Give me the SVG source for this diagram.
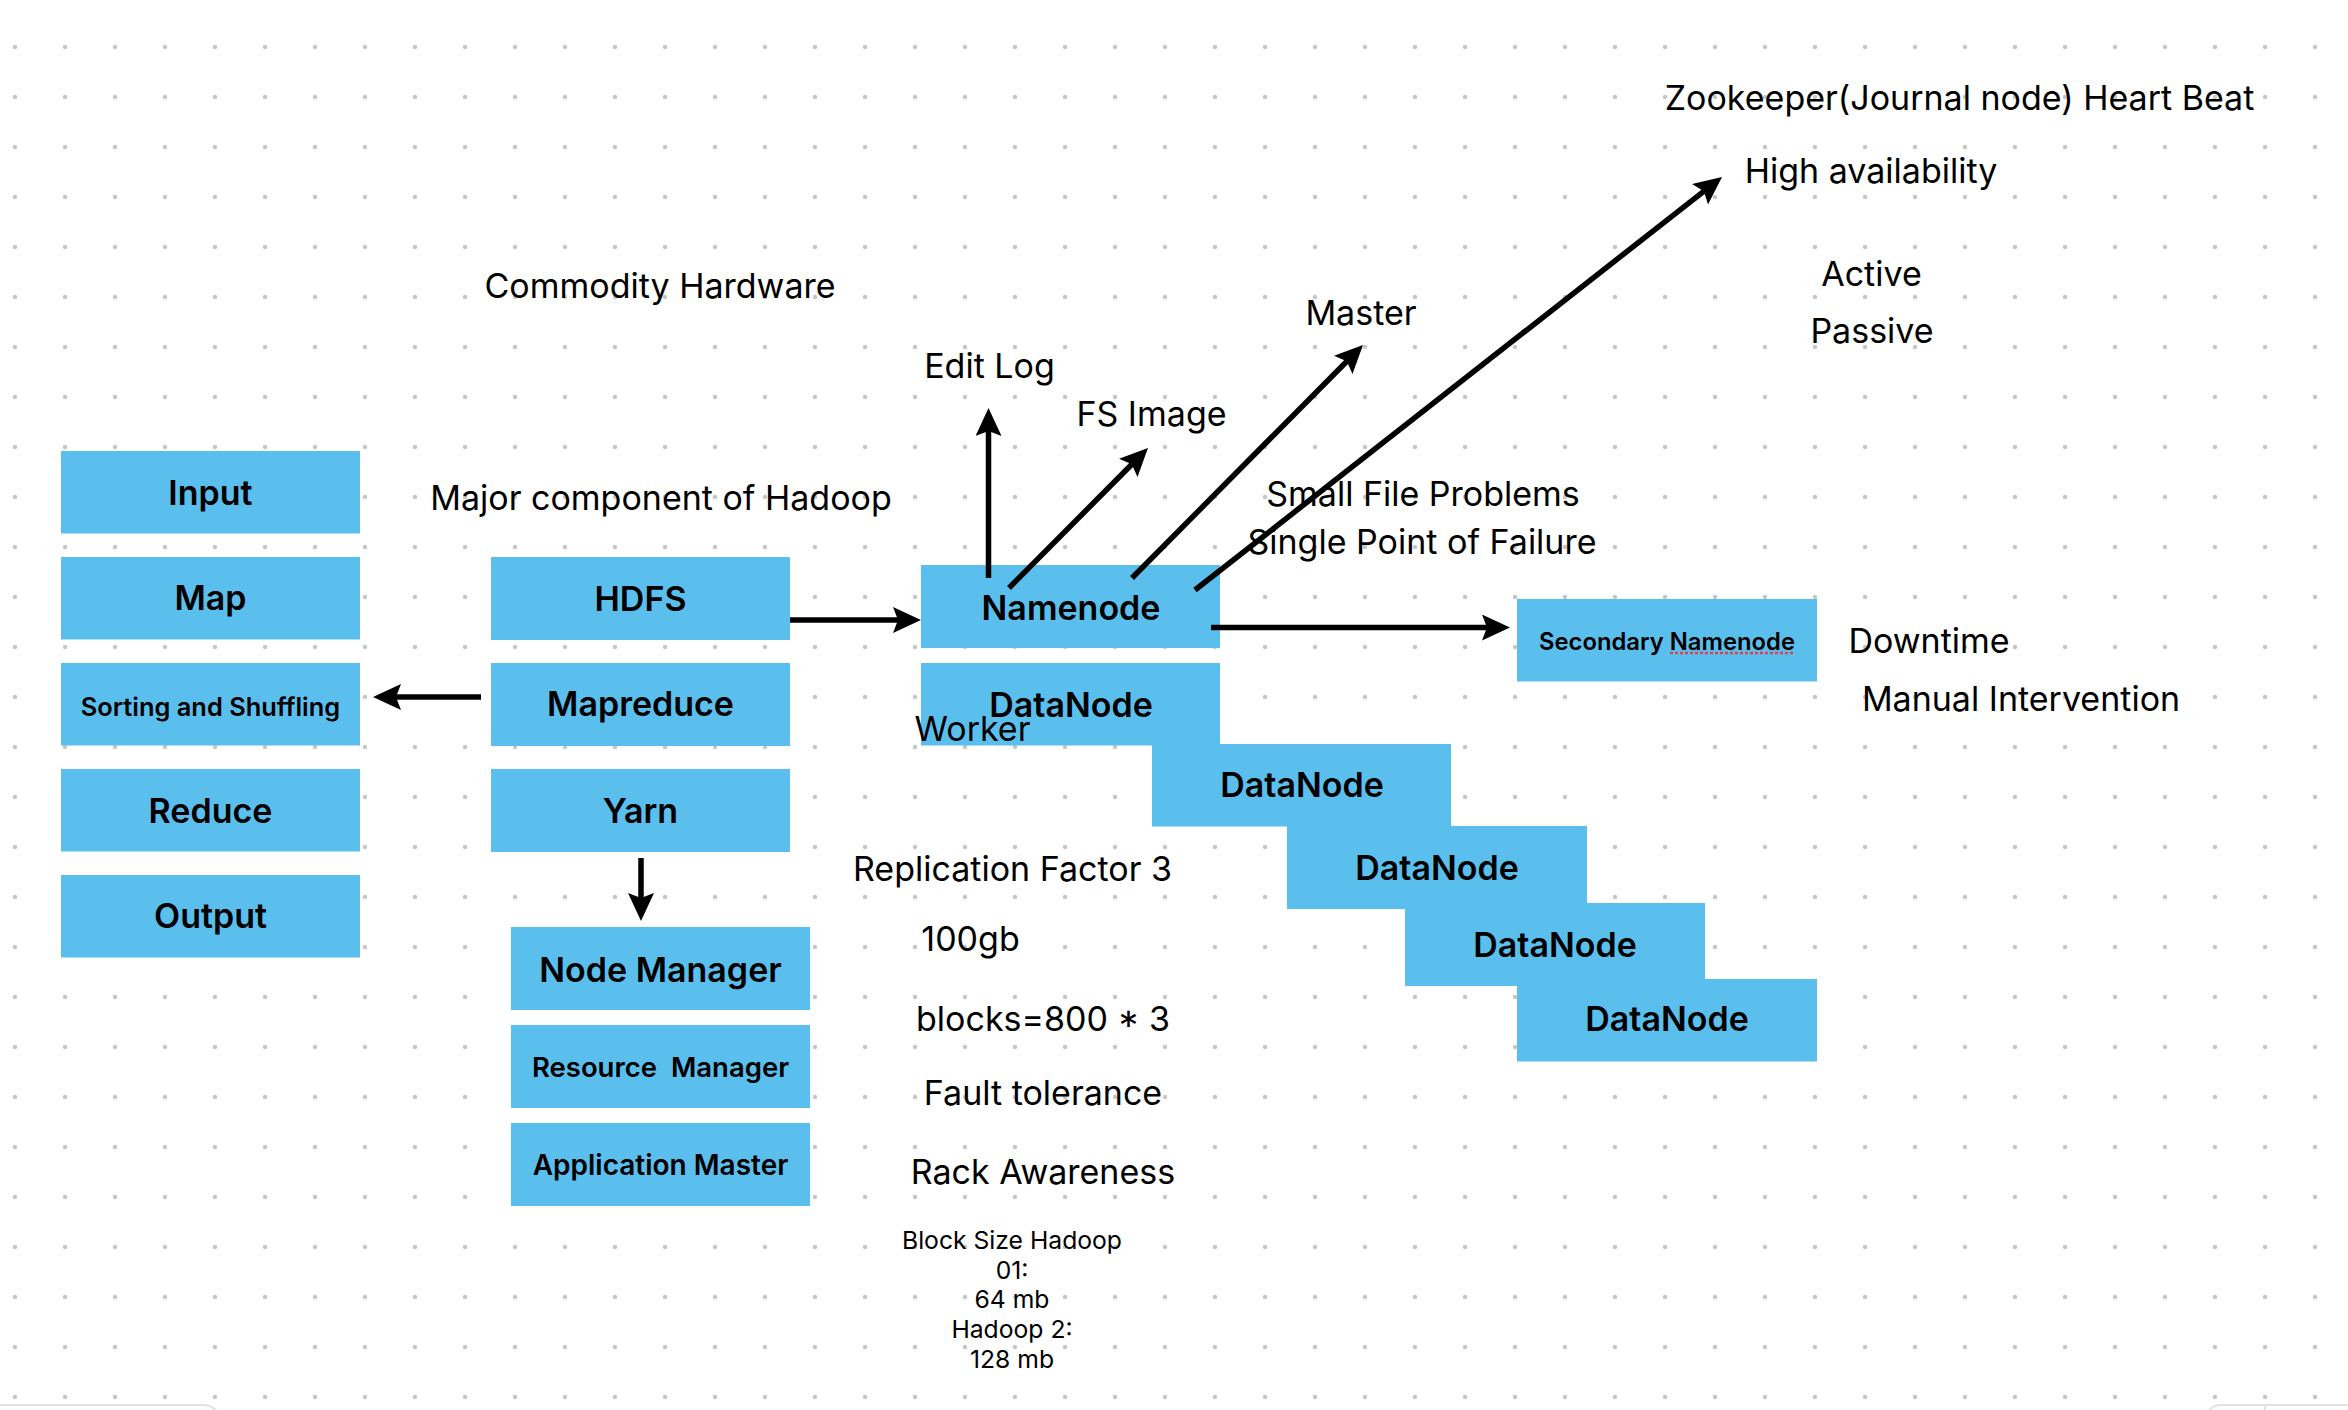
<svg xmlns="http://www.w3.org/2000/svg" width="2348" height="1410" viewBox="0 0 2348 1410">
<defs>
<pattern id="dots" x="0" y="0" width="50" height="50" patternUnits="userSpaceOnUse">
<circle cx="15" cy="47" r="2.2" fill="#c6c6c6"/>
</pattern>
<marker id="ah" markerUnits="userSpaceOnUse" markerWidth="30" markerHeight="28" refX="8" refY="13" orient="auto" viewBox="0 0 30 28">
<path d="M0,0 L28,13 L0,26 L5,13 Z" fill="#000"/>
</marker>
</defs>
<style>
.box{fill:#5bbfee}
.lbl{font-family:Inter,"Liberation Sans",sans-serif;font-weight:600;fill:#000;text-anchor:middle}
.big{font-size:34px}
.note{font-family:Inter,"Liberation Sans",sans-serif;font-size:34px;fill:#000;text-anchor:middle}
.small{font-family:Inter,"Liberation Sans",sans-serif;font-size:24.7px;fill:#000;text-anchor:middle}
.conn line{stroke:#000;stroke-width:5.5;marker-end:url(#ah)}
</style>
<rect width="2348" height="1410" fill="#fff"/>
<rect width="2348" height="1410" fill="url(#dots)"/>

<g id="input"><rect class="box" x="61" y="451" width="299" height="82.5"/><text class="lbl big" x="210.5" y="505">Input</text></g>
<g id="map"><rect class="box" x="61" y="557" width="299" height="82.5"/><text class="lbl big" x="210.5" y="610">Map</text></g>
<g id="sorting"><rect class="box" x="61" y="663" width="299" height="82.5"/><text class="lbl" font-size="25.4" x="210.5" y="716">Sorting and Shuffling</text></g>
<g id="reduce"><rect class="box" x="61" y="769" width="299" height="82.5"/><text class="lbl big" x="210.5" y="822.5">Reduce</text></g>
<g id="output"><rect class="box" x="61" y="875" width="299" height="82.5"/><text class="lbl big" x="210.5" y="928">Output</text></g>

<g id="hdfs"><rect class="box" x="491" y="557" width="299" height="83"/><text class="lbl big" x="640.5" y="611">HDFS</text></g>
<g id="mapreduce"><rect class="box" x="491" y="663" width="299" height="83"/><text class="lbl big" x="640.5" y="716">Mapreduce</text></g>
<g id="yarn"><rect class="box" x="491" y="769" width="299" height="83"/><text class="lbl big" x="640.5" y="822.5">Yarn</text></g>

<g id="nodemanager"><rect class="box" x="511" y="927" width="299" height="83"/><text class="lbl big" x="660.5" y="981.5">Node Manager</text></g>
<g id="resourcemanager"><rect class="box" x="511" y="1025" width="299" height="83"/><text class="lbl" font-size="27.5" x="660.5" y="1077" xml:space="preserve">Resource  Manager</text></g>
<g id="applicationmaster"><rect class="box" x="511" y="1123" width="299" height="83"/><text class="lbl" font-size="28" x="660.5" y="1175">Application Master</text></g>

<g id="namenode"><rect class="box" x="921" y="565" width="299" height="83"/><text class="lbl big" x="1071" y="620">Namenode</text></g>
<g id="datanode1"><rect class="box" x="921" y="663" width="299" height="82.5"/><text class="lbl big" x="1071" y="716.5">DataNode</text></g>
<g id="datanode2"><rect class="box" x="1152" y="744" width="299" height="82.5"/><text class="lbl big" x="1302" y="796.5">DataNode</text></g>
<g id="datanode3"><rect class="box" x="1287" y="826" width="300" height="83"/><text class="lbl big" x="1437" y="879.5">DataNode</text></g>
<g id="datanode4"><rect class="box" x="1405" y="903" width="300" height="83"/><text class="lbl big" x="1555" y="956.5">DataNode</text></g>
<g id="datanode5"><rect class="box" x="1517" y="979" width="300" height="82.5"/><text class="lbl big" x="1667" y="1031">DataNode</text></g>
<g id="secondarynamenode"><rect class="box" x="1517" y="599" width="300" height="82.5"/><text class="lbl" font-size="23.8" x="1667" y="650">Secondary Namenode</text>
<line x1="1670" y1="653" x2="1795" y2="653" stroke="#e5404a" stroke-width="2.5" stroke-dasharray="3 2"/></g>

<g id="connectors" class="conn">
<line x1="790" y1="620" x2="901" y2="620"/>
<line x1="481" y1="697" x2="393" y2="697"/>
<line x1="641" y1="858" x2="641" y2="901"/>
<line x1="988.5" y1="578" x2="988.5" y2="428"/>
<line x1="1009" y1="588" x2="1133.9" y2="462.2"/>
<line x1="1132" y1="578" x2="1348.9" y2="359.2"/>
<line x1="1195" y1="590" x2="1706.3" y2="189.3"/>
<line x1="1211" y1="627.5" x2="1490" y2="627.5"/>
</g>

<g id="notes">
<text class="note" x="660" y="298">Commodity Hardware</text>
<text class="note" x="661" y="510">Major component of Hadoop</text>
<text class="note" x="989.5" y="377.5">Edit Log</text>
<text class="note" x="1151.5" y="425.5">FS Image</text>
<text class="note" x="1361" y="325">Master</text>
<text class="note" x="1959.5" y="110">Zookeeper(Journal node) Heart Beat</text>
<text class="note" x="1871" y="183">High availability</text>
<text class="note" x="1871.5" y="286">Active</text>
<text class="note" x="1872" y="343">Passive</text>
<text class="note" x="1423" y="506">Small File Problems</text>
<text class="note" x="1422" y="554">Single Point of Failure</text>
<text class="note" x="1929" y="653">Downtime</text>
<text class="note" x="2021" y="711">Manual Intervention</text>
<text class="note" x="972.5" y="741">Worker</text>
<text class="note" x="1012.5" y="880.5">Replication Factor 3</text>
<text class="note" x="970.5" y="951">100gb</text>
<text class="note" x="1043" y="1031">blocks=800 * 3</text>
<text class="note" x="1043" y="1105">Fault tolerance</text>
<text class="note" x="1043" y="1184">Rack Awareness</text>
<text class="small" x="1012" y="1249">Block Size Hadoop</text>
<text class="small" x="1012" y="1279">01:</text>
<text class="small" x="1012" y="1308">64 mb</text>
<text class="small" x="1012" y="1338">Hadoop 2:</text>
<text class="small" x="1012" y="1367.5">128 mb</text>
</g>

<g id="ui-edges" fill="#fff" stroke="#e2e2e2" stroke-width="2">
<rect x="-20" y="1405" width="240" height="40" rx="16"/>
<rect x="2205" y="1405" width="180" height="40" rx="16"/>
<line x1="2265" y1="1405" x2="2265" y2="1410"/>
</g>
</svg>
